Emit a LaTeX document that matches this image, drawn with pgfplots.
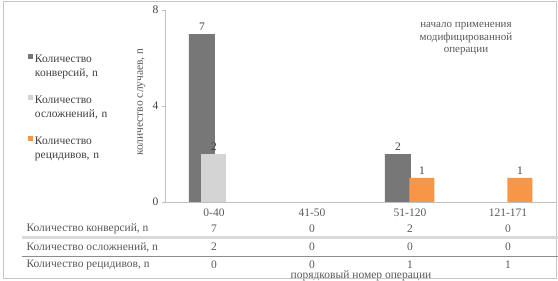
\documentclass[border=0pt]{standalone}
\usepackage{fontspec}
\setmainfont{Liberation Serif}
\usepackage{pgfplots}
\pgfplotsset{compat=1.18}
\definecolor{cdark}{HTML}{777777}
\definecolor{clight}{HTML}{D4D4D4}
\definecolor{corange}{HTML}{F79646}
\definecolor{ctext}{HTML}{595959}
\definecolor{caxis}{HTML}{BFBFBF}
\pgfplotsset{sqlegend/.style={legend image code/.code={\fill[##1] (0pt,14.5pt) rectangle (5pt,19.5pt);}}}
\begin{document}
\begin{tikzpicture}[font=\fontsize{11.5}{13.5}\selectfont]
\begin{axis}[
  scale only axis,
  width=392pt, height=192pt,
  xmin=-0.5, xmax=3.5, ymin=0, ymax=8,
  axis x line*=bottom, axis y line*=left,
  axis line style={caxis,-},
  xtick={0,1,2,3}, xticklabels={0-40,41-50,51-120,121-171},
  x tick style={draw=none},
  ytick={0,4,8},
  y tick style={caxis},
  tick align=outside, major tick length=3pt,
  /pgf/number format/assume math mode=true,
  x tick label style={text=ctext},
  y tick label style={text=black!75},
  ylabel={количество случаев, n},
  ylabel style={at={(axis description cs:-0.06,0.52)}, anchor=center, text=ctext},
  xlabel={порядковый номер операции},
  xlabel style={at={(axis description cs:0.5,0)}, anchor=center, yshift=-74pt, text=ctext},
  clip=false,
  nodes near coords style={text=black!75, font=\fontsize{11.5}{13.5}\selectfont},
  legend style={at={(axis description cs:-0.35,0.775)}, anchor=north west,
    draw=none, fill=none, text=black!75, inner sep=0pt,
    font=\fontsize{11.5}{13.5}\selectfont,
    nodes={text width=92pt, align=left, inner sep=2pt, text depth=29.5pt}},
  legend cell align=left,
]
\coordinate (O) at (rel axis cs:0,0);
\addplot[ybar, bar width=26pt, bar shift=-12pt, fill=cdark, draw=none, nodes near coords,
  every node near coord/.append style={xshift=-12pt}, sqlegend]
  coordinates {(0,7) (2,2)};
\addlegendentry{Количество конверсий, n}
\addplot[ybar, bar width=25pt, bar shift=0pt, fill=clight, draw=none, nodes near coords, sqlegend]
  coordinates {(0,2)};
\addlegendentry{Количество осложнений, n}
\addplot[ybar, bar width=25pt, bar shift=12pt, fill=corange, draw=none, nodes near coords,
  every node near coord/.append style={xshift=12pt}, sqlegend]
  coordinates {(2,1) (3,1)};
\addlegendentry{Количество рецидивов, n}
\end{axis}
\begin{scope}[shift={(O)}, xshift=-165pt, yshift=202pt, x=1pt, y=1pt]
\pgfresetboundingbox
\useasboundingbox (0,0) rectangle (558,-281);
\draw[gray!45, line width=0.8pt] (3,-1.5) rectangle (556,-278.5);
% annotation
\node[align=center, text=ctext, font=\fontsize{11}{12.5}\selectfont] at (466,-39) {начало применения\\модифицированной\\операции};
% data table
\draw[line width=3pt, black!15] (22,-238) -- (558,-238);
\draw[line width=0.8pt, black!45] (22,-256.5) -- (558,-256.5);
\node[anchor=west, text=ctext] at (23,-229) {Количество конверсий, n};
\node[anchor=west, text=ctext] at (23,-247) {Количество осложнений, n};
\node[anchor=west, text=ctext] at (23,-264.5) {Количество рецидивов, n};
\node[text=ctext] at (214,-229) {7};
\node[text=ctext] at (312,-229) {0};
\node[text=ctext] at (410,-229) {2};
\node[text=ctext] at (508,-229) {0};
\node[text=ctext] at (214,-247) {2};
\node[text=ctext] at (312,-247) {0};
\node[text=ctext] at (410,-247) {0};
\node[text=ctext] at (508,-247) {0};
\node[text=ctext] at (214,-264.5) {0};
\node[text=ctext] at (312,-264.5) {0};
\node[text=ctext] at (410,-264.5) {1};
\node[text=ctext] at (508,-264.5) {1};
\end{scope}
\end{tikzpicture}
\end{document}
